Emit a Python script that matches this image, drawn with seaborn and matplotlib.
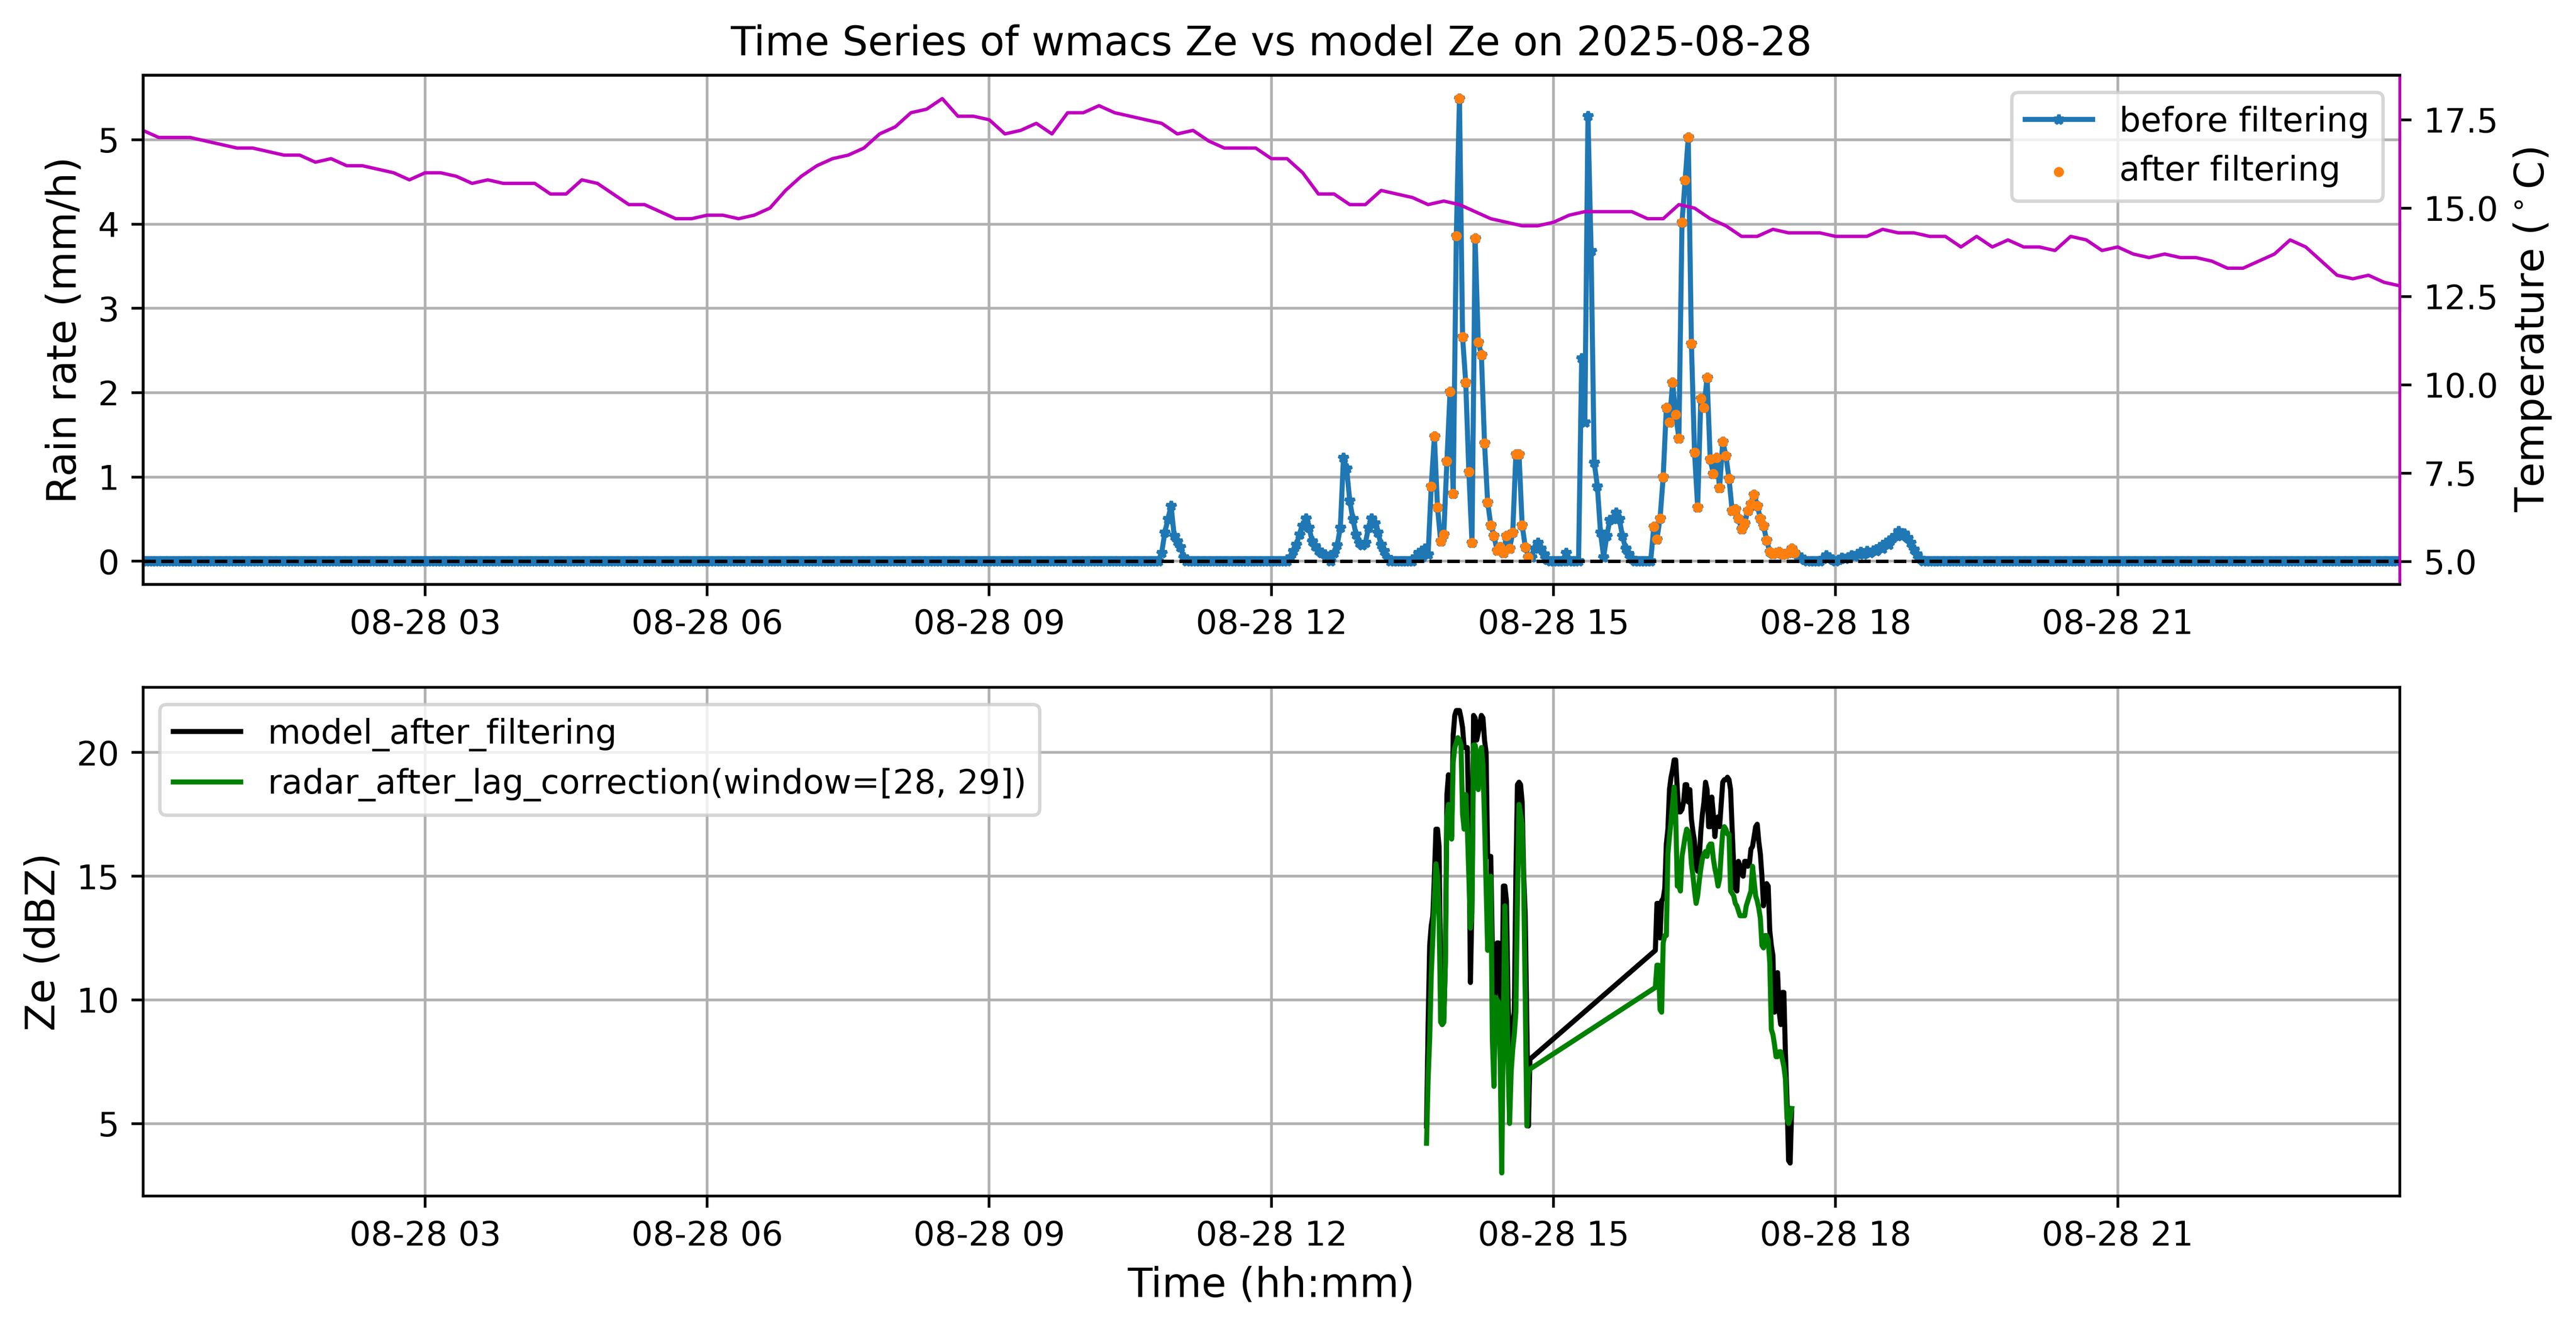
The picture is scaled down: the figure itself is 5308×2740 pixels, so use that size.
import pandas as pd
import matplotlib
matplotlib.use("Agg")
import matplotlib.pyplot as plt
import matplotlib.dates as mdates
import seaborn as sns

day = "2025-08-28"

# rain rate (mm/h), one value every 2 minutes starting 00:00
rain_dry_night = [0.0] * 324          # 00:00 - 10:46
rain_bump_1048 = [0.0, 0.1, 0.34, 0.5, 0.66, 0.3, 0.24, 0.17, 0.05, 0.0]
rain_dry_1108 = [0.0] * 31
rain_bump_1210 = [0.0, 0.05, 0.12, 0.2, 0.32, 0.42, 0.51, 0.4, 0.24, 0.18,
                  0.13, 0.1, 0.08, 0.04, 0.0, 0.1, 0.19, 0.4, 1.23, 1.1,
                  0.72, 0.5, 0.32, 0.22, 0.19, 0.22, 0.4, 0.51, 0.45, 0.34,
                  0.2, 0.12, 0.04, 0.0]
rain_dry_1318 = [0.0] * 7
rain_bump_1332 = [0.05, 0.1, 0.05, 0.15, 0.08]
rain_storm_1342 = [0.89, 1.48, 0.64, 0.24, 0.32, 1.19, 2.01, 0.8, 3.86, 5.49,
                   2.66, 2.12, 1.06, 0.22, 3.83, 2.6, 2.45, 1.4, 0.7, 0.43,
                   0.3, 0.13, 0.17, 0.1, 0.3, 0.15, 0.34, 1.27, 1.27, 0.43,
                   0.17, 0.05]
rain_bump_1446 = [0.05, 0.15, 0.22, 0.15, 0.08, 0.02, 0.0, 0.0, 0.0, 0.0,
                  0.0, 0.1, 0.0, 0.0, 0.0]
rain_storm_1516 = [0.0, 2.41, 1.65, 5.28, 3.68, 1.17, 0.89, 0.34, 0.05, 0.3,
                   0.49, 0.5, 0.58, 0.5, 0.3, 0.15, 0.09, 0.03, 0.0]
rain_dry_1554 = [0.0] * 4
rain_storm_1602 = [0.0, 0.41, 0.26, 0.51, 1.0, 1.82, 1.65, 2.12, 1.74, 1.46,
                   4.02, 4.52, 5.03, 2.58, 1.29, 0.64, 1.93, 1.82, 2.18, 1.21,
                   1.04, 1.23, 0.87, 1.42, 1.25, 0.98, 0.6, 0.62, 0.51, 0.38,
                   0.45, 0.6, 0.68, 0.79, 0.66, 0.51, 0.42, 0.25, 0.11, 0.09,
                   0.1, 0.11, 0.08, 0.09, 0.1, 0.15, 0.1, 0.07, 0.04, 0.02,
                   0.0]
rain_dry_1744 = [0.0] * 4
rain_drizzle_1752 = [0.03, 0.07, 0.05, 0.02, 0.0, 0.02, 0.04, 0.03, 0.05, 0.07,
                     0.06, 0.09, 0.11, 0.08, 0.12, 0.1, 0.13, 0.12, 0.17, 0.15,
                     0.22, 0.2, 0.27, 0.3, 0.36, 0.3, 0.33, 0.28, 0.22, 0.14,
                     0.08, 0.03, 0.0]
rain_dry_evening = [0.0] * 151        # 18:58 - 23:58

rain_rate = (rain_dry_night + rain_bump_1048 + rain_dry_1108 + rain_bump_1210
             + rain_dry_1318 + rain_bump_1332 + rain_storm_1342 + rain_bump_1446
             + rain_storm_1516 + rain_dry_1554 + rain_storm_1602 + rain_dry_1744
             + rain_drizzle_1752 + rain_dry_evening)

# windows kept after filtering
filter_windows = [("13:42", "14:44"), ("16:02", "17:34")]

# temperature (deg C), one value every 10 minutes from 00:00 to 24:00
temperature = [17.2, 17.0, 17.0, 17.0, 16.9, 16.8, 16.7, 16.7, 16.6, 16.5,
               16.5, 16.3, 16.4, 16.2, 16.2, 16.1, 16.0, 15.8, 16.0, 16.0,
               15.9, 15.7, 15.8, 15.7, 15.7, 15.7, 15.4, 15.4, 15.8, 15.7,
               15.4, 15.1, 15.1, 14.9, 14.7, 14.7, 14.8, 14.8, 14.7, 14.8,
               15.0, 15.5, 15.9, 16.2, 16.4, 16.5, 16.7, 17.1, 17.3, 17.7,
               17.8, 18.1, 17.6, 17.6, 17.5, 17.1, 17.2, 17.4, 17.1, 17.7,
               17.7, 17.9, 17.7, 17.6, 17.5, 17.4, 17.1, 17.2, 16.9, 16.7,
               16.7, 16.7, 16.4, 16.4, 16.0, 15.4, 15.4, 15.1, 15.1, 15.5,
               15.4, 15.3, 15.1, 15.2, 15.1, 14.9, 14.7, 14.6, 14.5, 14.5,
               14.6, 14.8, 14.9, 14.9, 14.9, 14.9, 14.7, 14.7, 15.1, 15.0,
               14.7, 14.5, 14.2, 14.2, 14.4, 14.3, 14.3, 14.3, 14.2, 14.2,
               14.2, 14.4, 14.3, 14.3, 14.2, 14.2, 13.9, 14.2, 13.9, 14.1,
               13.9, 13.9, 13.8, 14.2, 14.1, 13.8, 13.9, 13.7, 13.6, 13.7,
               13.6, 13.6, 13.5, 13.3, 13.3, 13.5, 13.7, 14.1, 13.9, 13.5,
               13.1, 13.0, 13.1, 12.9, 12.8]

# Ze (dBZ), one value per minute, two stretches
ze_span_1 = ("13:39", "14:45")
ze_span_2 = ("16:05", "17:32")
model_ze_1 = [4.9, 9.0, 12.2, 13.0, 13.4, 15.0, 16.9, 16.9, 16.2, 11.0,
              9.0, 9.1, 11.5, 18.3, 19.1, 18.0, 16.6, 20.7, 21.5, 21.7,
              21.7, 21.7, 21.4, 21.0, 20.2, 20.2, 20.2, 17.0, 10.7, 14.0,
              21.5, 21.4, 20.5, 20.8, 21.2, 21.5, 21.4, 20.5, 20.0, 15.8,
              15.8, 15.8, 12.0, 9.0, 10.5, 12.3, 12.3, 10.5, 8.0, 14.6,
              14.6, 14.0, 10.0, 8.3, 8.0, 9.0, 9.5, 15.0, 18.7, 18.8,
              18.7, 18.0, 15.0, 13.4, 9.0, 4.9, 7.6]
radar_ze_1 = [4.2, 6.8, 8.4, 11.0, 12.5, 14.0, 15.5, 15.0, 13.4, 9.1,
              9.0, 9.1, 11.5, 17.4, 17.9, 17.2, 16.5, 19.6, 20.2, 20.4,
              20.6, 20.5, 20.3, 17.5, 16.9, 18.3, 17.0, 15.0, 12.9, 13.5,
              20.3, 20.3, 20.0, 18.5, 19.5, 20.2, 19.5, 17.2, 14.6, 12.0,
              14.0, 15.0, 8.4, 6.5, 10.1, 10.0, 9.9, 7.5, 3.0, 9.0,
              13.8, 11.0, 7.5, 5.0, 7.1, 8.0, 8.6, 9.5, 14.0, 17.9,
              17.5, 17.1, 14.6, 10.0, 4.9, 7.0, 7.2]
model_ze_2 = [12.0, 13.9, 13.9, 12.5, 14.0, 14.1, 14.5, 16.3, 16.9, 18.5,
              19.0, 19.3, 19.7, 19.7, 18.5, 17.6, 17.6, 17.7, 18.0, 18.7,
              18.7, 18.0, 18.5, 17.3, 16.8, 16.4, 15.4, 15.2, 15.7, 16.8,
              17.5, 18.0, 18.8, 18.5, 17.0, 17.0, 18.2, 17.5, 16.6, 17.3,
              17.4, 17.0, 17.9, 18.8, 18.9, 18.9, 19.0, 18.9, 18.5, 16.9,
              15.4, 14.5, 14.4, 15.6, 15.4, 15.1, 15.0, 15.6, 15.6, 15.4,
              15.5, 16.1, 16.2, 16.6, 17.0, 17.1, 16.4, 15.9, 15.0, 13.8,
              14.6, 14.7, 14.6, 12.8, 12.2, 11.8, 9.5, 11.0, 11.1, 9.5,
              9.0, 10.3, 10.3, 7.8, 6.0, 3.5, 3.4, 5.6]
radar_ze_2 = [10.5, 11.4, 11.4, 9.6, 9.5, 12.3, 12.6, 12.6, 15.9, 16.6,
              17.2, 17.9, 18.6, 17.4, 14.6, 14.6, 14.4, 15.8, 16.2, 16.6,
              16.9, 16.8, 16.4, 15.5, 15.0, 14.4, 13.9, 14.2, 14.8, 15.3,
              15.7, 15.9, 16.0, 15.8, 16.2, 16.3, 16.3, 15.7, 15.3, 15.0,
              14.6, 14.9, 15.9, 16.8, 17.0, 16.9, 16.7, 16.7, 14.4, 14.3,
              14.2, 13.9, 13.8, 13.6, 13.4, 13.4, 13.4, 13.4, 13.8, 14.0,
              14.2, 14.4, 15.4, 14.8, 14.2, 14.0, 13.7, 13.3, 12.2, 12.1,
              12.6, 12.6, 12.4, 11.5, 8.8, 8.6, 8.2, 7.7, 7.7, 7.9,
              7.9, 7.6, 7.3, 6.8, 5.2, 5.0, 5.2, 5.6]
lag_window = [28, 29]


def build_frames():
    start = pd.Timestamp(day)
    rain = pd.DataFrame({
        "time": pd.date_range(start, periods=len(rain_rate), freq="2min"),
        "rain": rain_rate,
    })
    keep = pd.Series(False, index=rain.index)
    for a, b in filter_windows:
        keep |= rain["time"].between(pd.Timestamp(f"{day} {a}"), pd.Timestamp(f"{day} {b}"))
    filtered = rain[keep & (rain["rain"] > 0)]

    temp = pd.DataFrame({
        "time": pd.date_range(start, periods=len(temperature), freq="10min"),
        "temp": temperature,
    })

    t1 = pd.date_range(f"{day} {ze_span_1[0]}", f"{day} {ze_span_1[1]}", freq="1min")
    t2 = pd.date_range(f"{day} {ze_span_2[0]}", f"{day} {ze_span_2[1]}", freq="1min")
    ze = pd.DataFrame({
        "time": t1.append(t2),
        "model": model_ze_1 + model_ze_2,
        "radar": radar_ze_1 + radar_ze_2,
    })
    return rain, filtered, temp, ze


def format_time_axis(ax):
    ax.set_xlim(pd.Timestamp(day), pd.Timestamp(day) + pd.Timedelta(days=1))
    ax.xaxis.set_major_locator(mdates.HourLocator(byhour=[3, 6, 9, 12, 15, 18, 21]))
    ax.xaxis.set_major_formatter(mdates.DateFormatter("%m-%d %H"))


rain, filtered, temp, ze = build_frames()

fig = plt.figure(figsize=(5308 / 500, 2740 / 500), dpi=500)
ax1 = fig.add_axes([0.0555, 0.5606, 0.8761, 0.3828])
ax3 = fig.add_axes([0.0555, 0.1007, 0.8761, 0.3825])

# top panel: rain rate + temperature
sns.lineplot(data=rain, x="time", y="rain", ax=ax1, color="#1f77b4", lw=1.5,
             marker="*", markersize=3, markeredgecolor="#1f77b4",
             markeredgewidth=1.0, label="before filtering")
sns.scatterplot(data=filtered, x="time", y="rain", ax=ax1, color="#ff7f0e",
                s=9, linewidth=0, label="after filtering", zorder=3)
ax1.axhline(0, color="k", ls="--", lw=1, zorder=4)
ax1.grid(True)
ax1.set_ylabel("Rain rate (mm/h)", fontsize=12)
ax1.set_xlabel("")
ax1.set_title(f"Time Series of wmacs Ze vs model Ze on {day}", fontsize=12)
format_time_axis(ax1)
ax1.legend(loc="upper right", fontsize=10)

ax2 = ax1.twinx()
sns.lineplot(data=temp, x="time", y="temp", ax=ax2, color="m", lw=1)
ax2.set_ylim(4.35, 18.76)
ax2.set_ylabel(r"Temperature ($^\circ$C)", fontsize=12)
ax2.spines["right"].set_color("m")
format_time_axis(ax2)

# bottom panel: Ze comparison
sns.lineplot(data=ze, x="time", y="model", ax=ax3, color="black", lw=1.5,
             label="model_after_filtering")
sns.lineplot(data=ze, x="time", y="radar", ax=ax3, color="green", lw=1.5,
             label=f"radar_after_lag_correction(window={lag_window})")
ax3.grid(True)
ax3.set_ylabel("Ze (dBZ)", fontsize=12)
ax3.set_xlabel("Time (hh:mm)", fontsize=12)
format_time_axis(ax3)
ax3.legend(loc="upper left", fontsize=10)

fig.savefig("out.png", dpi=500)
